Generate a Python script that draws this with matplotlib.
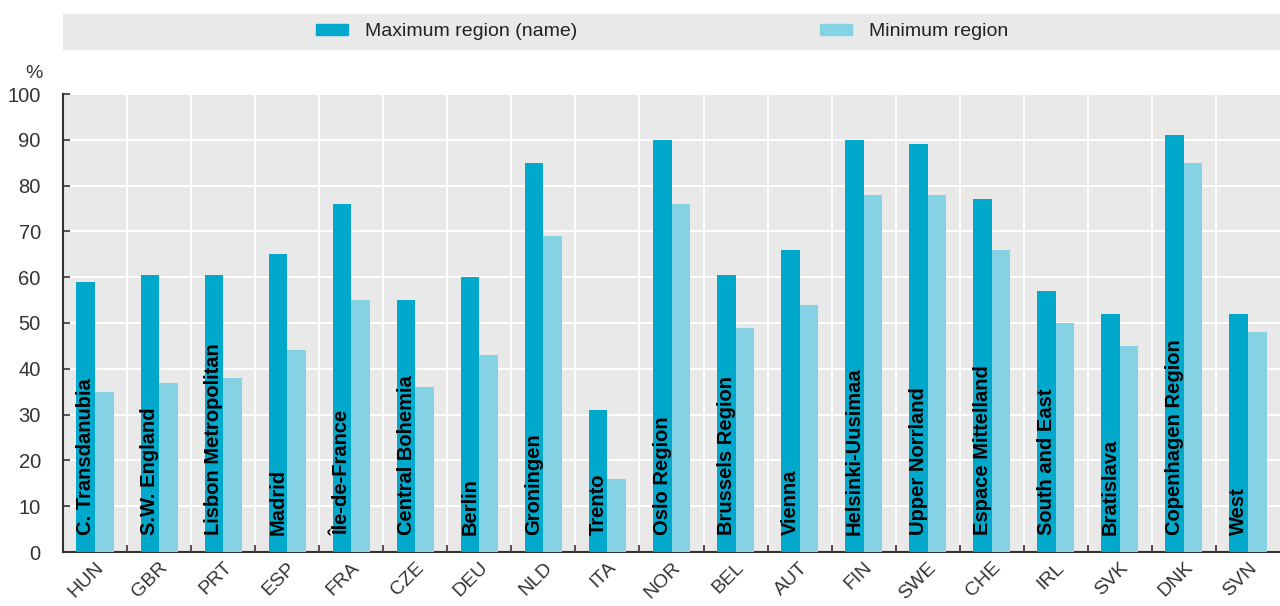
import numpy as np
from matplotlib import pyplot as plt
from matplotlib.patches import Rectangle, Patch

countries = ["HUN", "GBR", "PRT", "ESP", "FRA", "CZE", "DEU", "NLD", "ITA", "NOR",
             "BEL", "AUT", "FIN", "SWE", "CHE", "IRL", "SVK", "DNK", "SVN"]
max_names = ["C. Transdanubia", "S.W. England", "Lisbon Metropolitan", "Madrid",
             "Île-de-France", "Central Bohemia", "Berlin", "Groningen", "Trento",
             "Oslo Region", "Brussels Region", "Vienna", "Helsinki-Uusimaa",
             "Upper Norrland", "Espace Mittelland", "South and East", "Bratislava",
             "Copenhagen Region", "West"]
max_vals = [59, 60.5, 60.5, 65, 76, 55, 60, 85, 31, 90, 60.5, 66, 90, 89, 77, 57, 52, 91, 52]
min_vals = [35, 37, 38, 44, 55, 36, 43, 69, 16, 76, 49, 54, 78, 78, 66, 50, 45, 85, 48]

c_max = "#00A8CB"
c_min = "#86D2E5"
bg = "#E9E9E9"

plt.rcParams['font.family'] = ['Liberation Sans Narrow', 'Liberation Sans', 'DejaVu Sans']

fig = plt.figure(figsize=(12.8, 6.06), dpi=100)
ax = fig.add_axes([63 / 1280, 54 / 606, 1217 / 1280, 458 / 606])
ax.set_facecolor(bg)

x = np.arange(len(countries))
w = 0.29
ax.bar(x - w / 2, max_vals, w, color=c_max, zorder=3)
ax.bar(x + w / 2, min_vals, w, color=c_min, zorder=3)

for i, name in enumerate(max_names):
    ax.text(x[i] - w / 2, 3.8, name, rotation=90, ha='center', va='bottom',
            fontsize=14.5, fontweight='bold', color='black', zorder=4)

ax.set_xlim(-0.5, len(countries) - 0.5)
ax.set_ylim(0, 100)
ax.set_yticks(range(0, 101, 10))
ax.set_xticks(x)
ax.set_xticklabels(countries, rotation=45, ha='right', rotation_mode='anchor',
                   fontsize=14, color='#333333')
ax.set_xticks(x[:-1] + 0.5, minor=True)
ax.tick_params(axis='x', which='major', length=0, pad=5)
ax.tick_params(axis='x', which='minor', direction='in', length=5, width=1.2, color='#333333')
ax.tick_params(axis='y', direction='in', length=5, width=1.2, color='#333333',
               labelsize=14.5, labelcolor='#333333', pad=16)

ax.grid(axis='y', color='white', linewidth=1.5, zorder=1)
ax.grid(axis='x', which='minor', color='white', linewidth=1.5, zorder=1)
ax.set_axisbelow(True)

for s in ['top', 'right']:
    ax.spines[s].set_visible(False)
for s in ['left', 'bottom']:
    ax.spines[s].set_color('#333333')
    ax.spines[s].set_linewidth(1.5)

fig.text(34 / 1280, 1 - 74 / 606, "%", ha='center', va='center', fontsize=14, color='#333333')

fig.patches.append(Rectangle((63 / 1280, 1 - 50 / 606), 1217 / 1280, 36 / 606,
                             transform=fig.transFigure, facecolor=bg, edgecolor='none'))
handles = [Patch(color=c_max), Patch(color=c_min)]
fig.legend(handles, ["Maximum region (name)", "Minimum region"], loc='center',
           bbox_to_anchor=(662 / 1280, 1 - 32 / 606), ncol=2, frameon=False,
           fontsize=14, columnspacing=12.5, handlelength=1.65, handleheight=0.55,
           handletextpad=0.85, labelcolor='#222222')

fig.savefig("out.png", dpi=100)
